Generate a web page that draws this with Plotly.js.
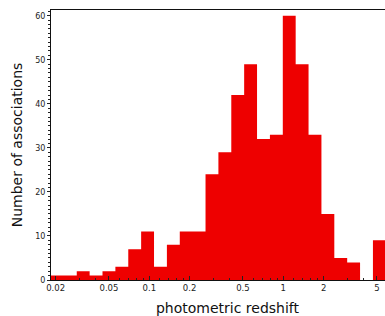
<!DOCTYPE html>
<html>
<head>
<meta charset="utf-8">
<script src="https://cdn.plot.ly/plotly-3.0.1.min.js"></script>
<style>
html,body{margin:0;padding:0;overflow:hidden;background:#fff;}
#chart{width:404px;height:316px;}
</style>
</head>
<body>
<div id="chart"></div>
<script>
// Histogram counts per logarithmic redshift bin (left to right)
const counts = [1, 1, 2, 1, 2, 3, 7, 11, 3, 8, 11, 11, 24, 29, 42, 49, 32, 33, 60, 49, 33, 15, 5, 4, 0, 9];
// Bin definition in log10(z)
const logBinStart = -1.7336;
const logBinWidth = 0.0961;
// Tick labels
const majorTicks = [0.02, 0.05, 0.1, 0.2, 0.5, 1, 2, 5];
const majorTickText = ["0.02", "0.05", "0.1", "0.2", "0.5", "1", "2", "5"];
const minorTicks = [0.03, 0.04, 0.06, 0.07, 0.08, 0.09, 0.12, 0.14, 0.16, 0.18, 0.3, 0.4, 0.6, 0.7, 0.8, 0.9, 1.2, 1.4, 1.6, 1.8, 3, 4, 6, 7];
const yTicks = [0, 10, 20, 30, 40, 50, 60];

const edges = [];
for (let k = 0; k <= counts.length; k++) edges.push(Math.pow(10, logBinStart + k * logBinWidth));
const ys = counts.concat([counts[counts.length - 1]]);

const trace = {
  type: 'scatter',
  mode: 'lines',
  x: edges,
  y: ys,
  line: {shape: 'hv', width: 0, color: '#ee0000'},
  fill: 'tozeroy',
  fillcolor: '#ee0000',
  hoverinfo: 'skip'
};

const layout = {
  width: 404,
  height: 316,
  margin: {l: 51, r: 0, t: 10, b: 36},
  paper_bgcolor: '#ffffff',
  plot_bgcolor: '#ffffff',
  showlegend: false,
  font: {family: 'DejaVu Sans', color: '#222222'},
  xaxis: {
    type: 'log',
    range: [logBinStart, 0.9007],
    tickmode: 'array',
    tickvals: majorTicks,
    ticktext: majorTickText,
    ticks: 'inside',
    ticklen: 4,
    tickcolor: '#222',
    tickfont: {size: 8.5, family: 'DejaVu Sans', color: '#222'},
    showgrid: false,
    zeroline: false,
    showline: true,
    linecolor: '#111',
    linewidth: 1,
    mirror: true,
    minor: {tickvals: minorTicks, ticks: 'inside', ticklen: 2, tickcolor: '#222', showgrid: false},
    title: {text: 'photometric redshift', font: {size: 14, family: 'DejaVu Sans', color: '#111'}, standoff: 11}
  },
  yaxis: {
    range: [0, 61.3],
    tickmode: 'array',
    tickvals: yTicks,
    ticks: 'outside',
    ticklen: 3,
    tickcolor: '#222',
    tickfont: {size: 8, family: 'DejaVu Sans', color: '#222'},
    showgrid: false,
    zeroline: false,
    showline: true,
    linecolor: '#111',
    linewidth: 1,
    minor: {dtick: 1, ticks: 'outside', ticklen: 2, tickcolor: '#222', showgrid: false},
    title: {text: 'Number of associations', font: {size: 14, family: 'DejaVu Sans', color: '#111'}, standoff: 9}
  }
};

Plotly.newPlot('chart', [trace], layout, {displayModeBar: false, staticPlot: true});
</script>
</body>
</html>
